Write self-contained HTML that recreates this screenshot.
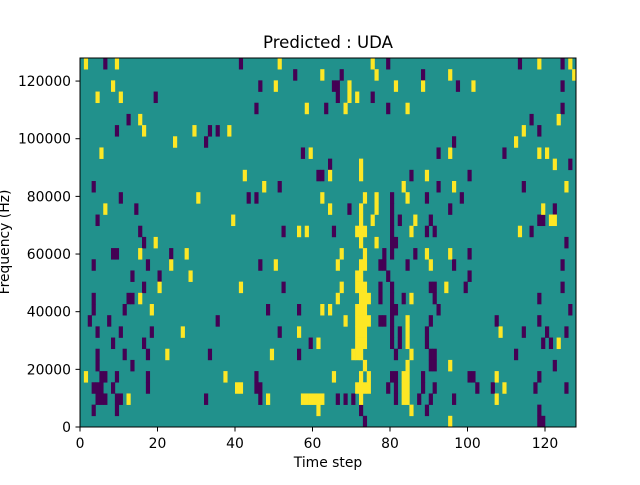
<!DOCTYPE html>
<html><head><meta charset="utf-8"><style>
html,body{margin:0;padding:0;background:#fff;}
svg text{font-family:"DejaVu Sans","Liberation Sans",sans-serif;fill:#000;}
</style></head><body>
<svg id="chart" width="640" height="480" viewBox="0 0 640 480" xmlns="http://www.w3.org/2000/svg">
<rect width="640" height="480" fill="#fff"/>
<text x="328" y="48" font-size="16.6" text-anchor="middle">Predicted : UDA</text>
<g id="plot"></g>
<g id="axes"></g>
<text x="328" y="467" font-size="13.9" text-anchor="middle">Time step</text>
<text x="0" y="0" font-size="13.9" text-anchor="middle" transform="translate(9,242) rotate(-90)">Frequency (Hz)</text>
</svg>
<script>
const nTime = 128;
const nBins = 33;
const freqMax = 128000;
const xTicks = [0,20,40,60,80,100,120];
const yTicks = [0,20000,40000,60000,80000,100000,120000];
const yTickLabels = ["0","20000","40000","60000","80000","100000","120000"];
// rows listed top (bin 32) to bottom (bin 0): time indices
const purpleRows = [
[6,41,79,113,124],[55,67,88],[46,65,66,97,124],[19,66,75],[45,63,79,124],[12,116],[9,33,35,118],[32,96],[57,92,109],[64,126],
[61,62,85,100],[3,51,92,114],[10,43,45,80,89,98],[14,69,80,95,122],[4,80,82,90,118,119],[15,52,65,80,89,91,116],[16,80,81,125],
[8,9,23,78,80,86,100],[3,17,46,77,78,84,96,124],[13,20,79,100],[16,52,77,80,90,91,99,124],[3,12,13,77,80,83,91,118],
[3,11,48,56,80,81,92,126],[2,7,35,77,78,80,90,107,118],[4,10,18,51,80,82,89,114,120,125],[8,16,59,80,82,89,119,121],
[4,11,17,33,56,81,90,91,112],[4,13,90,91,122],[5,6,9,17,45,80,81,88,100,101,118],[3,4,5,8,17,45,46,79,81,88,91,102,106,117,125],
[4,5,6,9,10,32,46,66,68,70,81,87,90,96],[3,9,72,89,118],[73,118,119]];
const yellowRows = [
[1,9,51,75,118,126],[62,76,95,127],[8,50,69,81,88,101],[4,10,69,71],[58,68,84],[15,123],[16,29,38,114],[24,112],[5,59,95,118,120],[72,122],
[42,64,72,89],[47,83,96,125],[30,62,73,76,84],[6,64,72,76,119],[39,72,75,86,121,122],[56,58,71,72,73,85,113],[19,72,76],
[15,27,67,73,89,95],[23,50,66,72,73,90],[28,71,72],[20,41,67,71,72,73,94],[15,66,72,73,74,85],[18,62,64,71,72,73],
[68,71,72,73,74,84],[26,56,71,72,73,84,108],[61,71,72,73,84,123],[22,49,70,71,72,85],[73,84,95],[1,37,65,72,74,83,84,107],
[40,41,71,72,73,74,83,84,109],[12,48,57,58,59,60,61,62,72,83,84,107],[61,85],[95]];

const L=80,R=576,T=58,B=427;
const xs = t => L + t*(R-L)/nTime;
const yb = b => B - b*(B-T)/nBins;
const yv = v => B - v/freqMax*(B-T);
const NS="http://www.w3.org/2000/svg";
const plot=document.getElementById('plot');
const axes=document.getElementById('axes');
function mk(tag,attrs,parent){const e=document.createElementNS(NS,tag);for(const k in attrs)e.setAttribute(k,attrs[k]);parent.appendChild(e);return e;}
const bg=mk('rect',{x:L,y:T,width:R-L,height:B-T,fill:'#21918c'},plot);


function drawRows(rows,color,name){
  rows.forEach((row,i)=>{
    const bin = nBins-1-i;
    row.forEach(t=>{
      const r=mk('rect',{x:xs(t),y:yb(bin+1),width:xs(t+1)-xs(t)+0.3,height:yb(bin)-yb(bin+1)+0.3,fill:color},plot);
      
      
    });
  });
}
drawRows(purpleRows,'#440154','heatmap-cell-low');
drawRows(yellowRows,'#fde725','heatmap-cell-high');
const frame=mk('rect',{x:L,y:T,width:R-L,height:B-T,fill:'none',stroke:'#000','stroke-width':1},axes);


xTicks.forEach(t=>{
  const x=xs(t);
  mk('line',{x1:x,x2:x,y1:B,y2:B+4.5,stroke:'#000'},axes);
  const tx=mk('text',{x:x,y:B+21,'font-size':13.9,'text-anchor':'middle'},axes);
  tx.textContent=String(t);
  
  
});
yTicks.forEach((v,i)=>{
  const y=yv(v);
  mk('line',{x1:L-4.5,x2:L,y1:y,y2:y,stroke:'#000'},axes);
  const tx=mk('text',{x:L-9,y:y+5,'font-size':13.9,'text-anchor':'end'},axes);
  tx.textContent=yTickLabels[i];
  
  
});
</script>
</body></html>
